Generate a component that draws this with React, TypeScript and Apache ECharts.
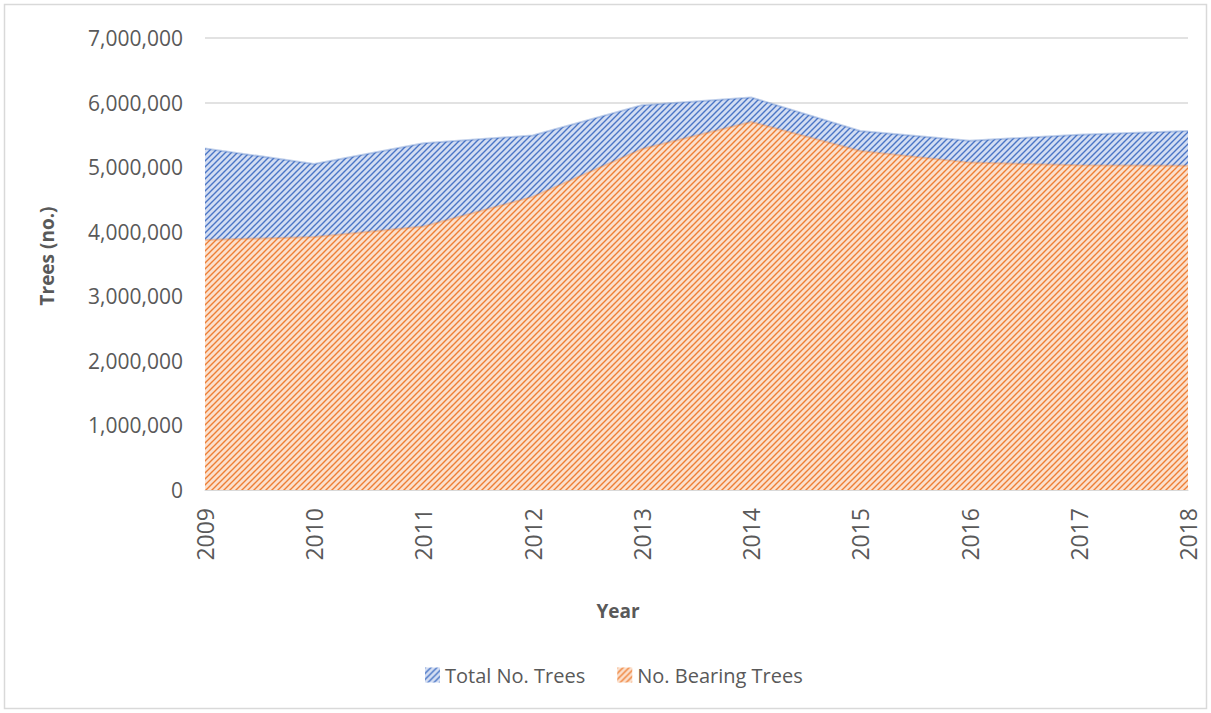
import React, { useEffect, useRef } from "react";
import * as echarts from "echarts";

const years = ["2009", "2010", "2011", "2012", "2013", "2014", "2015", "2016", "2017", "2018"];
const totalTrees = [5290000, 5050000, 5370000, 5490000, 5960000, 6080000, 5560000, 5410000, 5500000, 5560000];
const bearingTrees = [3870000, 3920000, 4080000, 4540000, 5280000, 5700000, 5250000, 5070000, 5030000, 5020000];
const seriesNames = ["Total No. Trees", "No. Bearing Trees"];
const yAxisTitle = "Trees (no.)";
const xAxisTitle = "Year";
const yMin = 0;
const yMax = 7000000;
const yInterval = 1000000;

const FONT = "'Open Sans', 'Noto Sans', sans-serif";
const TEXT_COLOR = "#595959";

function makeHatch(bg: string, fg: string) {
  const s = 6;
  const c = document.createElement("canvas");
  c.width = s;
  c.height = s;
  const ctx = c.getContext("2d")!;
  ctx.fillStyle = bg;
  ctx.fillRect(0, 0, s, s);
  ctx.strokeStyle = fg;
  ctx.lineWidth = 1.4;
  ctx.beginPath();
  ctx.moveTo(-1, s + 1);
  ctx.lineTo(s + 1, -1);
  ctx.moveTo(-1, 1);
  ctx.lineTo(1, -1);
  ctx.moveTo(s - 1, s + 1);
  ctx.lineTo(s + 1, s - 1);
  ctx.stroke();
  return { image: c, repeat: "repeat" } as any;
}

export default function App() {
  const ref = useRef<HTMLDivElement>(null);

  useEffect(() => {
    if (!ref.current) return;
    const chart = echarts.init(ref.current, undefined, { renderer: "svg" });
    const bluePattern = makeHatch("#d3ddf2", "#4a76c6");
    const orangePattern = makeHatch("#fbe0cd", "#ee7f35");

    chart.setOption({
      animation: false,
      backgroundColor: "#ffffff",
      textStyle: { fontFamily: FONT },
      grid: { left: 205, right: 23, top: 38, bottom: 223, containLabel: false },
      legend: {
        left: 420,
        top: 660,
        itemWidth: 15,
        itemHeight: 15,
        itemGap: 32,
        icon: "rect",
        textStyle: { fontSize: 20, color: TEXT_COLOR, fontFamily: FONT },
        data: [
          { name: seriesNames[0], itemStyle: { color: bluePattern } },
          { name: seriesNames[1], itemStyle: { color: orangePattern } },
        ],
      },
      xAxis: {
        type: "category",
        data: years,
        boundaryGap: false,
        axisLine: { show: true, lineStyle: { color: "#d9d9d9" } },
        axisTick: { show: false },
        axisLabel: {
          rotate: 90,
          margin: 18,
          fontSize: 23,
          color: TEXT_COLOR,
          fontFamily: FONT,
        },
      },
      yAxis: {
        type: "value",
        min: yMin,
        max: yMax,
        interval: yInterval,
        axisLine: { show: false },
        axisTick: { show: false },
        splitLine: { lineStyle: { color: "#d9d9d9", width: 1.5 } },
        axisLabel: {
          margin: 22,
          fontSize: 21,
          color: TEXT_COLOR,
          fontFamily: FONT,
          formatter: (v: number) => v.toLocaleString("en-US"),
        },
      },
      graphic: [
        {
          type: "rect",
          shape: { x: 4.5, y: 4.5, width: 1202, height: 704 },
          style: { fill: "none", stroke: "#d9d9d9", lineWidth: 1.5 },
          silent: true,
        },
        {
          type: "text",
          x: 47,
          y: 256,
          rotation: Math.PI / 2,
          style: {
            text: yAxisTitle,
            fontSize: 19,
            fontWeight: "bold",
            fill: TEXT_COLOR,
            fontFamily: FONT,
            align: "center",
            verticalAlign: "middle",
          },
        },
        {
          type: "text",
          x: 618,
          y: 611,
          style: {
            text: xAxisTitle,
            fontSize: 19,
            fontWeight: "bold",
            fill: TEXT_COLOR,
            fontFamily: FONT,
            align: "center",
            verticalAlign: "middle",
          },
        },
      ],
      series: [
        {
          name: seriesNames[0],
          type: "line",
          data: totalTrees,
          symbol: "none",
          itemStyle: { color: bluePattern },
          lineStyle: { color: "rgba(68,114,196,0.35)", width: 2 },
          areaStyle: { color: bluePattern, opacity: 1 },
          z: 2,
        },
        {
          name: seriesNames[1],
          type: "line",
          data: bearingTrees,
          symbol: "none",
          itemStyle: { color: orangePattern },
          lineStyle: { color: "rgba(237,125,49,0.35)", width: 2 },
          areaStyle: { color: orangePattern, opacity: 1 },
          z: 3,
        },
      ],
    });

    return () => chart.dispose();
  }, []);

  return (
    <div
      ref={ref}
      style={{ position: "fixed", left: 0, top: 0, width: 1211, height: 713, background: "#fff" }}
    />
  );
}
